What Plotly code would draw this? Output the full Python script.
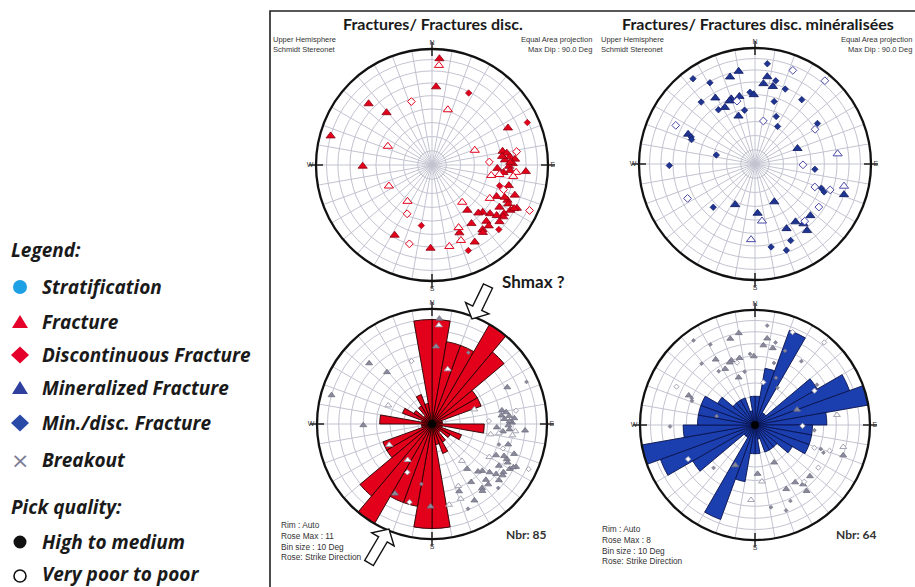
import math
import plotly.graph_objects as go

W, H = 915, 587

# ---------------- pole data (upper hemisphere, Schmidt net) ----------------
# code: F = fracture / good pick, f = fracture / poor pick,
#       D = discontinuous fracture / good pick, d = discontinuous / poor pick
frac_az = [4, 4, 3, 27, 314, 342, 319, 16, 66, 64, 286, 293, 269, 244, 71, 81,
           79, 81, 84, 86, 89, 91, 86, 83, 93, 94, 95, 94, 98, 98, 100, 87,
           107, 105, 109, 120, 110, 115, 122, 117, 120, 117, 118, 124, 126, 130,
           115, 130, 128, 133, 136, 142, 141, 136, 137, 142, 146, 158, 157, 159,
           151, 143, 134, 157, 168, 181, 196, 208, 190, 207, 214, 88, 96, 116, 114]
frac_dip = [81, 75, 57, 59, 65, 48, 50, 41, 79, 62, 80, 34, 50, 34, 32, 63,
            52, 55, 57, 61, 59, 56, 53, 51, 47, 57, 62, 70, 60, 49, 43, 41,
            51, 58, 55, 48, 65, 61, 58, 63, 67, 71, 69, 64, 65, 65,
            82, 55, 60, 50, 48, 41, 34, 57, 61, 60, 51, 53, 49, 59,
            65, 62, 69, 69, 61, 61, 60, 58, 44, 39, 31, 57, 52, 52, 58]
frac_code = list("FfFDFdFfDFFfFffd" "FFFFFFFFFFfFfffd" "DFdfFFFFFFFFFF"
                 "dFFFFFfFFFFFff" "FFDDfFdFDdfFFFF")
frac_total = 85

# mineralised fractures, same F/f/D/d convention
min_az = [7, 22, 324, 331, 344, 350, 8, 6, 13, 14, 22, 40, 356, 359, 347, 340,
          338, 344, 329, 332, 326, 319, 349, 341, 17, 36, 24, 11, 31, 57, 60, 296,
          294, 293, 291, 283, 70, 83, 269, 91, 95, 111, 110, 112, 109, 104, 109, 124,
          243, 224, 206, 153, 177, 173, 145, 133, 139, 141, 142, 154, 183, 155, 169, 160]
min_dip = [76, 76, 80, 69, 67, 70, 65, 59, 58, 63, 59, 83, 52, 50, 50, 50,
           49, 47, 56, 46, 47, 60, 39, 36, 47, 58, 37, 31, 31, 54, 50, 65,
           53, 50, 49, 28, 32, 61, 63, 34, 43, 46, 51, 54, 58, 68, 70, 56,
           55, 43, 32, 30, 35, 41, 51, 55, 55, 56, 62, 52, 55, 62, 62, 68]
min_code = list("DdDDFFFFFD" "DdDFFFFdFF" "DDDFDDDdDD" "ddFDDDFfDd"
                "DdDDdfFddD" "FFFfFFdFFF" "fDDD")
min_total = 64

# ---------------- strike rose counts (10 deg bins, 0-180, bidirectional) ----
rose_bins = list(range(0, 180, 10))
frac_rose = [10, 8, 8, 11, 9, 5, 5, 1, 1, 5, 1, 3, 2, 1, 2, 3, 2, 10]
min_rose = [2, 4, 7, 1, 1, 5, 7, 8, 5, 4, 4, 4, 3, 2, 2, 2, 1, 2]
frac_rose_max = 11
min_rose_max = 8

RED = "#e3001b"
RED_EDGE = "#8f0010"
BLUE = "#1f3592"
BLUE_EDGE = "#0b1560"
BLUE_OPEN = "#4a4aa8"
GREY = "#8a8a9c"
GRID = "#c3c3d1"


def eq_area(dip):
    """Normalised Schmidt (equal-area) radius of a pole with the given dip."""
    return math.sqrt(2.0) * math.sin(math.radians(dip) / 2.0)


def px(x):
    return x / W


def py(y):
    return 1 - y / H


def pole_traces(az, dip, code, scale, sub, fill, edge, open_edge, big):
    traces = []
    styles = {
        "F": dict(symbol="triangle-up", size=big, color=fill, line=dict(color=edge, width=0.8)),
        "f": dict(symbol="triangle-up", size=big, color="white", line=dict(color=open_edge, width=1)),
        "D": dict(symbol="diamond", size=big - 3, color=fill, line=dict(color=edge, width=0.6)),
        "d": dict(symbol="diamond", size=big - 2, color="white", line=dict(color=open_edge, width=1)),
    }
    for key, mk in styles.items():
        idx = [i for i, c in enumerate(code) if c == key]
        if not idx:
            continue
        traces.append(go.Scatterpolar(
            theta=[az[i] for i in idx],
            r=[scale * eq_area(dip[i]) for i in idx],
            mode="markers", marker=mk, subplot=sub, cliponaxis=False,
            hoverinfo="skip"))
    return traces


def rose_trace(counts, sub, fill, edge):
    theta = [b + 5 for b in rose_bins] + [b + 185 for b in rose_bins]
    return go.Barpolar(theta=theta, r=counts + counts, width=[10] * (2 * len(counts)),
                       marker=dict(color=fill, line=dict(color=edge, width=0.9)),
                       subplot=sub, hoverinfo="skip")


def rim_ticks(scale, sub):
    return [
        go.Scatterpolar(theta=[0, 180], r=[scale, scale], mode="markers", subplot=sub,
                        cliponaxis=False, hoverinfo="skip",
                        marker=dict(symbol="line-ns", size=10, line=dict(color="#111", width=1.4))),
        go.Scatterpolar(theta=[90, 270], r=[scale, scale], mode="markers", subplot=sub,
                        cliponaxis=False, hoverinfo="skip",
                        marker=dict(symbol="line-ew", size=10, line=dict(color="#111", width=1.4))),
    ]


def polar_axes(cx, cy, rad, rmax):
    return dict(
        domain=dict(x=[px(cx - rad), px(cx + rad)], y=[py(cy + rad), py(cy - rad)]),
        bgcolor="white",
        angularaxis=dict(
            rotation=90, direction="clockwise", tickmode="array",
            tickvals=list(range(0, 360, 10)),
            ticktext=[{0: "N", 90: "E", 180: "S", 270: "W"}.get(a, "") for a in range(0, 360, 10)],
            showline=True, linecolor="#111", linewidth=2.3,
            gridcolor=GRID, gridwidth=0.8, ticks="",
            tickfont=dict(size=7, color="#333", family="Liberation Sans")),
        radialaxis=dict(
            range=[0, rmax], tickmode="array",
            tickvals=[rmax * eq_area(d) for d in range(10, 90, 10)],
            showticklabels=False, ticks="", showline=False,
            gridcolor=GRID, gridwidth=0.8),
    )


fig = go.Figure()

# top row: poles
for t in pole_traces(frac_az, frac_dip, frac_code, 1.0, "polar", RED, RED_EDGE, RED, 8):
    fig.add_trace(t)
for t in rim_ticks(1.0, "polar"):
    fig.add_trace(t)
for t in pole_traces(min_az, min_dip, min_code, 1.0, "polar2", BLUE, BLUE_EDGE, BLUE_OPEN, 8):
    fig.add_trace(t)
for t in rim_ticks(1.0, "polar2"):
    fig.add_trace(t)

# bottom row: strike roses with poles in grey
fig.add_trace(rose_trace(frac_rose, "polar3", RED, "#2a0000"))
for t in pole_traces(frac_az, frac_dip, frac_code, frac_rose_max, "polar3", GREY, "#6e6e80", "#a4a4b4", 6):
    fig.add_trace(t)
fig.add_trace(go.Scatterpolar(theta=[0], r=[0], mode="markers", subplot="polar3",
                              marker=dict(color="black", size=8), hoverinfo="skip"))
for t in rim_ticks(frac_rose_max, "polar3"):
    fig.add_trace(t)

fig.add_trace(rose_trace(min_rose, "polar4", "#1c3fb0", "#0a1450"))
for t in pole_traces(min_az, min_dip, min_code, min_rose_max, "polar4", GREY, "#6e6e80", "#a4a4b4", 6):
    fig.add_trace(t)
fig.add_trace(go.Scatterpolar(theta=[0], r=[0], mode="markers", subplot="polar4",
                              marker=dict(color="black", size=8), hoverinfo="skip"))
for t in rim_ticks(min_rose_max, "polar4"):
    fig.add_trace(t)

annotations = []


def ann(x, y, text, size, anchor="left", family="Liberation Sans", color="#222"):
    annotations.append(dict(x=px(x), y=py(y), xref="paper", yref="paper", text=text,
                            showarrow=False, xanchor=anchor, yanchor="middle", align=anchor,
                            font=dict(size=size, family=family, color=color)))


# titles
ann(433, 23, "<b>Fractures/ Fractures disc.</b>", 16, "center", "Lato", "#1a1a1a")
ann(758, 23, "<b>Fractures/ Fractures disc. minéralisées</b>", 16, "center", "Lato", "#1a1a1a")

# net headers (two lines each)
for x0, x1 in [(271, 594), (599, 914)]:
    ann(x0, 45, "Upper Hemisphere<br>Schmidt Stereonet", 7.5, "left", color="#333")
    ann(x1, 45, "Equal Area projection<br>Max Dip : 90.0 Deg", 7.5, "right", color="#333")

# rose information
for x0, y0, rmax in [(279, 541, frac_rose_max), (600, 545, min_rose_max)]:
    lines = ["Rim : Auto", "Rose Max : %d" % rmax, "Bin size : 10 Deg", "Rose: Strike Direction"]
    ann(x0, y0, "<br>".join(lines), 8.3, "left", color="#333")

ann(526, 534, "<b>Nbr: %d</b>" % frac_total, 12, "center", "Lato", "#333")
ann(856, 534, "<b>Nbr: %d</b>" % min_total, 12, "center", "Lato", "#333")

ann(533, 282, "<b>Shmax ?</b>", 17, "center", "Lato", "#1a1a1a")

# legend text
LEG = 19
ann(9, 250, "<b><i>Legend:</i></b>", LEG, "left", "Open Sans", "#1a1a1a")
legend_items = ["Stratification", "Fracture", "Discontinuous Fracture",
                "Mineralized Fracture", "Min./disc. Fracture", "Breakout"]
legend_y = [287, 322, 355, 388, 423, 460]
for s, y in zip(legend_items, legend_y):
    ann(40, y, "<b><i>%s</i></b>" % s, LEG, "left", "Open Sans", "#1a1a1a")
ann(9, 507, "<b><i>Pick quality:</i></b>", LEG, "left", "Open Sans", "#1a1a1a")
ann(40, 542, "<b><i>High to medium</i></b>", LEG, "left", "Open Sans", "#1a1a1a")
ann(40, 574, "<b><i>Very poor to poor</i></b>", LEG, "left", "Open Sans", "#1a1a1a")
ann(20, 460, "×", 22, "center", "DejaVu Sans", "#7e7e98")

shapes = []


def poly(points, fill, line_color="rgba(0,0,0,0)", width=0):
    d = "M " + " L ".join("%.5f,%.5f" % (px(x), py(y)) for x, y in points) + " Z"
    shapes.append(dict(type="path", xref="paper", yref="paper", path=d,
                       fillcolor=fill, line=dict(color=line_color, width=width)))


def circle(cx, cy, r, fill, line_color, width):
    shapes.append(dict(type="circle", xref="paper", yref="paper",
                       x0=px(cx - r), x1=px(cx + r), y0=py(cy + r), y1=py(cy - r),
                       fillcolor=fill, line=dict(color=line_color, width=width)))


def tri(cx, cy, color):
    poly([(cx - 8, cy + 6), (cx + 8, cy + 6), (cx, cy - 7)], color)


def dia(cx, cy, color):
    poly([(cx, cy - 8.5), (cx + 9, cy), (cx, cy + 8.5), (cx - 9, cy)], color)


def block_arrow(tail, tip, shaft=5.0, head=13.0, head_len=12.0):
    dx, dy = tip[0] - tail[0], tip[1] - tail[1]
    L = math.hypot(dx, dy)
    ux, uy = dx / L, dy / L
    nx, ny = -uy, ux
    bx, by = tip[0] - ux * head_len, tip[1] - uy * head_len
    pts = [(tail[0] + nx * shaft, tail[1] + ny * shaft),
           (bx + nx * shaft, by + ny * shaft),
           (bx + nx * head, by + ny * head),
           tip,
           (bx - nx * head, by - ny * head),
           (bx - nx * shaft, by - ny * shaft),
           (tail[0] - nx * shaft, tail[1] - ny * shaft)]
    poly(pts, "white", "#111", 1.4)


circle(20, 287, 7, "#1ea1e4", "#1ea1e4", 0)
tri(20, 322, "#e4002b")
dia(20, 355, "#e4002b")
tri(20, 388, "#2f3f9e")
dia(20, 423, "#2a4aa8")
circle(20, 542, 6.5, "#111", "#111", 0)
circle(20, 576, 6, "white", "#111", 1.6)

block_arrow((488, 286), (472, 319))
block_arrow((369, 563), (389, 529))

# frame
shapes.append(dict(type="path", xref="paper", yref="paper",
                   path="M %.5f,%.5f L %.5f,%.5f L %.5f,%.5f" % (px(270), py(587), px(270), py(11), px(915), py(11)),
                   line=dict(color="#222", width=1.6)))

fig.update_layout(
    width=W, height=H, margin=dict(l=0, r=0, t=0, b=0),
    paper_bgcolor="white", plot_bgcolor="white", showlegend=False,
    polar=polar_axes(432, 165, 116, 1.0),
    polar2=polar_axes(755, 164, 116, 1.0),
    polar3=polar_axes(432, 424, 115, frac_rose_max),
    polar4=polar_axes(755, 425, 115, min_rose_max),
    annotations=annotations, shapes=shapes,
)

fig.write_html("out.html")
